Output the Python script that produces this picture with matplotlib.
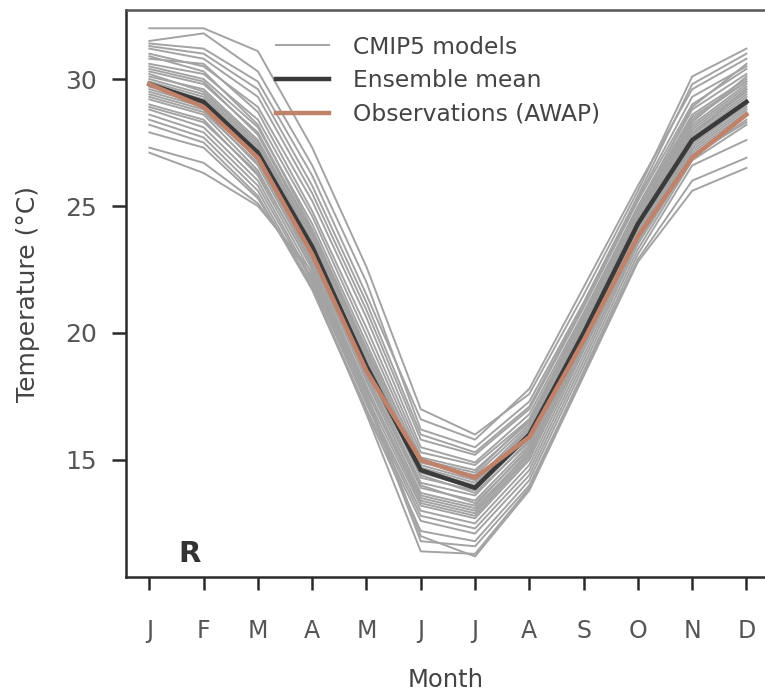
import matplotlib
matplotlib.use("Agg")
import matplotlib.pyplot as plt

months = ["J", "F", "M", "A", "M", "J", "J", "A", "S", "O", "N", "D"]

cmip5_models = [
    [32.0, 32.0, 31.1, 27.3, 22.6, 17.0, 16.0, 17.6, 21.5, 25.6, 30.1, 31.2],
    [31.5, 31.8, 30.3, 26.6, 22.0, 16.2, 15.5, 17.3, 21.2, 25.4, 29.8, 31.0],
    [31.4, 31.2, 29.9, 26.2, 21.5, 16.6, 15.8, 17.8, 21.8, 25.8, 29.6, 30.8],
    [31.2, 30.8, 29.3, 25.5, 20.9, 15.8, 15.2, 17.0, 21.0, 25.2, 29.0, 30.4],
    [31.0, 30.5, 28.9, 25.2, 20.6, 15.5, 14.9, 16.8, 20.8, 25.0, 28.8, 30.2],
    [30.8, 30.6, 28.7, 24.8, 20.2, 15.3, 14.8, 16.6, 20.6, 24.9, 28.6, 30.0],
    [30.6, 30.2, 28.4, 24.6, 19.9, 15.1, 14.6, 16.5, 20.5, 24.8, 28.4, 29.9],
    [30.5, 30.0, 28.1, 24.3, 19.6, 14.9, 14.4, 16.4, 20.4, 24.7, 28.2, 29.8],
    [30.3, 29.8, 27.9, 24.0, 19.3, 14.7, 14.1, 16.2, 20.3, 24.6, 28.0, 29.6],
    [30.1, 29.6, 27.6, 23.8, 19.0, 14.5, 13.9, 16.0, 20.2, 24.5, 27.9, 29.5],
    [30.0, 29.4, 27.4, 23.6, 18.8, 14.3, 13.8, 15.9, 20.1, 24.4, 27.8, 29.4],
    [29.9, 29.3, 27.3, 23.4, 18.6, 14.1, 13.6, 15.8, 20.0, 24.3, 27.7, 29.3],
    [29.7, 29.1, 27.0, 23.1, 18.3, 13.9, 13.4, 15.6, 19.9, 24.2, 27.6, 29.2],
    [29.6, 29.0, 26.8, 22.9, 18.1, 13.7, 13.2, 15.5, 19.8, 24.1, 27.5, 29.1],
    [29.4, 28.8, 26.6, 22.7, 17.9, 13.5, 13.0, 15.3, 19.7, 24.0, 27.4, 29.0],
    [29.2, 28.6, 26.4, 22.5, 17.7, 13.4, 12.9, 15.2, 19.6, 23.9, 27.3, 28.9],
    [29.0, 28.4, 26.2, 22.3, 17.5, 13.2, 12.7, 15.0, 19.5, 23.8, 27.2, 28.8],
    [28.8, 28.1, 26.0, 22.1, 17.3, 13.0, 12.5, 14.8, 19.3, 23.7, 27.1, 28.7],
    [28.6, 27.9, 25.8, 22.0, 17.2, 12.8, 12.3, 14.6, 19.1, 23.6, 27.0, 28.6],
    [28.4, 27.7, 25.6, 21.8, 17.0, 12.6, 12.1, 14.4, 18.9, 23.5, 26.9, 28.4],
    [28.2, 27.5, 25.4, 21.7, 16.9, 12.2, 11.8, 14.2, 18.7, 23.3, 26.8, 28.2],
    [27.9, 27.3, 25.3, 21.9, 16.8, 11.4, 11.3, 13.9, 18.5, 23.1, 26.6, 27.6],
    [27.3, 26.7, 25.1, 22.2, 17.4, 11.8, 11.6, 14.0, 18.4, 22.9, 26.0, 26.9],
    [27.1, 26.3, 25.0, 22.4, 17.6, 12.0, 11.2, 13.8, 18.3, 22.8, 25.6, 26.5],
    [30.9, 30.3, 28.2, 24.1, 19.4, 15.0, 14.5, 16.6, 20.7, 24.9, 28.9, 30.6],
    [29.8, 29.2, 27.2, 23.3, 18.9, 14.4, 13.7, 15.7, 20.1, 24.6, 28.1, 29.7],
    [29.5, 28.9, 26.9, 23.0, 18.4, 14.0, 13.3, 15.4, 19.8, 24.3, 27.8, 29.6],
    [30.2, 29.5, 27.5, 23.7, 19.1, 14.6, 14.0, 16.1, 20.3, 24.7, 28.3, 30.1],
    [29.3, 28.7, 26.7, 22.8, 18.2, 13.6, 13.1, 15.3, 19.7, 24.1, 27.5, 29.0],
    [30.4, 29.9, 27.8, 23.9, 19.2, 14.8, 14.2, 16.3, 20.5, 24.8, 28.5, 29.9],
    [28.9, 28.3, 26.3, 22.6, 17.8, 13.3, 12.8, 15.1, 19.4, 23.8, 27.0, 28.3],
    [31.3, 31.0, 29.6, 25.8, 21.2, 16.0, 15.3, 17.1, 21.1, 25.3, 29.3, 30.5],
]

ensemble_mean = [29.8, 29.1, 27.1, 23.4, 18.7, 14.6, 13.9, 16.0, 20.0, 24.3, 27.6, 29.1]
observations = [29.8, 28.9, 26.9, 23.1, 18.5, 15.0, 14.3, 15.9, 19.7, 23.8, 26.9, 28.6]

yticks = [15, 20, 25, 30]

W, H = 765, 691
fig = plt.figure(figsize=(W / 100, H / 100), dpi=100)
ax = fig.add_axes([126 / W, 1 - 577 / H, 640 / W, 567 / H])

x = list(range(len(months)))
for i, m in enumerate(cmip5_models):
    ax.plot(x, m, color="#a3a3a3", lw=1.4,
            label="CMIP5 models" if i == 0 else None, zorder=2)
ax.plot(x, ensemble_mean, color="#3a3a3a", lw=3.2, label="Ensemble mean", zorder=3)
ax.plot(x, observations, color="#c0826a", lw=3.2, label="Observations (AWAP)", zorder=4)

ax.set_xlim(-0.43, 11.36)
ax.set_ylim(10.39, 32.72)
ax.set_xticks(x)
ax.set_xticklabels(months)
ax.set_yticks(yticks)

ax.spines["right"].set_visible(False)
for s in ["left", "bottom", "top"]:
    ax.spines[s].set_linewidth(1.8)
    ax.spines[s].set_color("#2a2a2a")
ax.spines["top"].set_color("#555555")

ax.tick_params(axis="y", length=10, width=1.8, color="#2a2a2a", pad=11,
               labelsize=18, labelcolor="#555555")
ax.tick_params(axis="x", length=9, width=1.8, color="#2a2a2a", pad=21,
               labelsize=17, labelcolor="#555555")

ax.set_ylabel("Temperature (°C)", fontsize=18, color="#444444")
ax.yaxis.set_label_coords(-0.134, 0.5)
ax.set_xlabel("Month", fontsize=17.5, color="#444444")
ax.xaxis.set_label_coords(0.5, -0.16)

ax.text(0.75, 11.0, "R", fontsize=21, fontweight="bold", color="#333333",
        ha="center", va="baseline")

leg = ax.legend(loc="upper left", bbox_to_anchor=(0.234, 0.955), frameon=False,
                fontsize=16.8, handlelength=2.3, handletextpad=1.0,
                labelspacing=0.46, borderpad=0, borderaxespad=0)
for t in leg.get_texts():
    t.set_color("#444444")

fig.savefig("out.png", dpi=100)
